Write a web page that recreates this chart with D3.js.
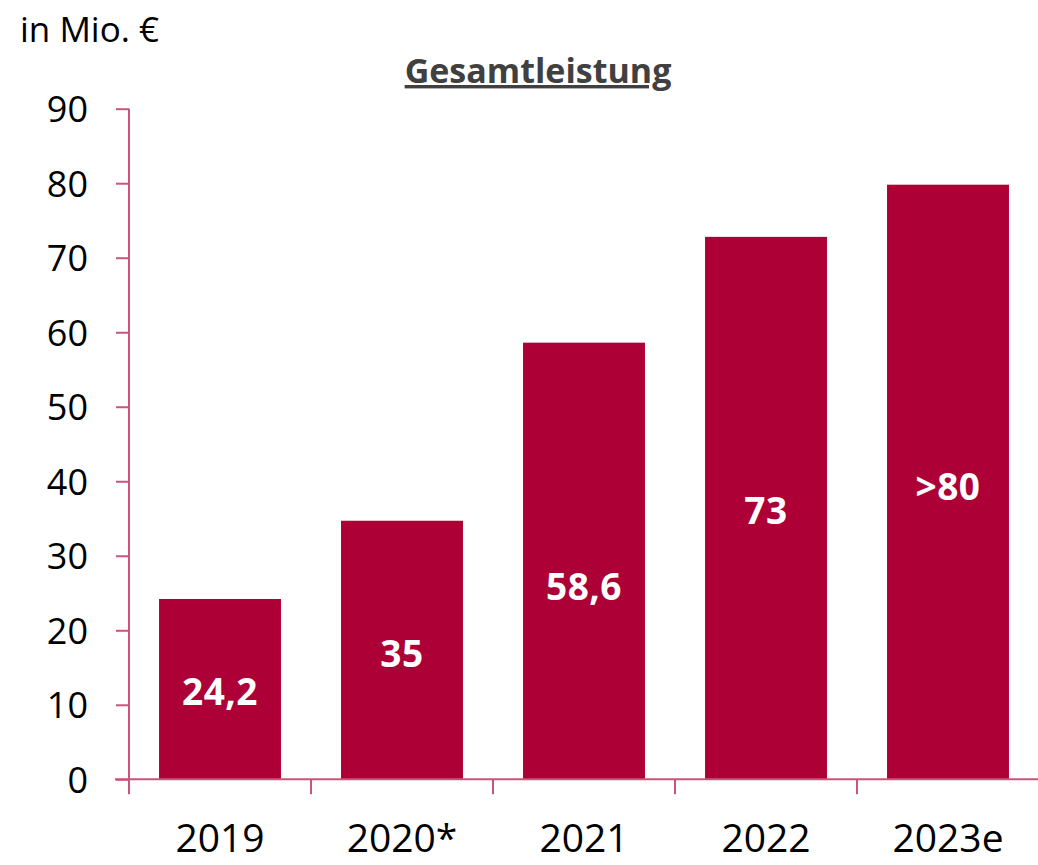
<!DOCTYPE html>
<html>
<head>
<meta charset="utf-8">
<script src="https://cdn.jsdelivr.net/npm/d3@7"></script>
<style>
  body { margin: 0; background: #fff; }
  text { font-family: "Open Sans", "Noto Sans", sans-serif; }
</style>
</head>
<body>
<div id="chart"></div>
<script>
// values
const years = ['2019', '2020*', '2021', '2022', '2023e'];
const values = [24.2, 34.7, 58.6, 72.8, 79.8];
const valueLabels = ['24,2', '35', '58,6', '73', '>80'];
const labelLevels = [11.7, 16.9, 25.8, 36.0, 39.3];
const yTicks = [0, 10, 20, 30, 40, 50, 60, 70, 80, 90];

let width = 1038;
let height = 865;
let barColor = '#ad0036';
let axisColor = '#c9557a';

let svg = d3.select('#chart')
    .append('svg')
    .attr('width', width)
    .attr('height', height);

let x = d3.scaleBand()
    .domain(years)
    .range([129, 1039])
    .paddingInner(0.33)
    .paddingOuter(0.165);

let y = d3.scaleLinear()
    .domain([0, 90])
    .range([779.3, 108.7]);

// bars
svg.append('g')
    .selectAll('rect')
    .data(values)
    .enter()
    .append('rect')
    .attr('x', function (d, i) { return x(years[i]); })
    .attr('y', function (d) { return y(d); })
    .attr('width', x.bandwidth())
    .attr('height', function (d) { return y(0) - y(d); })
    .attr('fill', barColor);

// value labels inside bars
svg.append('g')
    .selectAll('text')
    .data(valueLabels)
    .enter()
    .append('text')
    .attr('x', function (d, i) { return x(years[i]) + x.bandwidth() / 2; })
    .attr('y', function (d, i) { return y(labelLevels[i]); })
    .attr('dy', '0.36em')
    .attr('text-anchor', 'middle')
    .attr('fill', '#fff')
    .style('font-size', '37px')
    .style('font-weight', 'bold')
    .style('letter-spacing', '0.5px')
    .text(function (d) { return d; });

// y axis
let yAxis = svg.append('g')
    .attr('transform', 'translate(129,0)')
    .call(d3.axisLeft(y).tickValues(yTicks).tickSize(13).tickPadding(28));
yAxis.select('.domain').remove();
yAxis.append('line')
    .attr('y1', y(90)).attr('y2', 794)
    .attr('stroke', axisColor).attr('stroke-width', 2);
yAxis.selectAll('.tick line').attr('stroke', axisColor).attr('stroke-width', 2);
yAxis.selectAll('.tick text')
    .attr('fill', '#000')
    .style('font-size', '36px')
    .attr('dy', '0.36em');

// x axis
let xAxis = svg.append('g')
    .attr('transform', 'translate(0,' + y(0) + ')');
xAxis.append('line')
    .attr('x1', 115).attr('x2', width)
    .attr('stroke', axisColor).attr('stroke-width', 2);
let step = x.step();
xAxis.selectAll('.sep')
    .data(years)
    .enter()
    .append('line')
    .attr('class', 'sep')
    .attr('x1', function (d) { return x(d) - x.paddingInner() * step / 2; })
    .attr('x2', function (d) { return x(d) - x.paddingInner() * step / 2; })
    .attr('y1', 0).attr('y2', 15)
    .attr('stroke', axisColor).attr('stroke-width', 2);
xAxis.selectAll('.lbl')
    .data(years)
    .enter()
    .append('text')
    .attr('class', 'lbl')
    .attr('x', function (d) { return x(d) + x.bandwidth() / 2; })
    .attr('y', 73)
    .attr('text-anchor', 'middle')
    .attr('fill', '#000')
    .style('font-size', '39px')
    .text(function (d) { return d; });

// unit and title
svg.append('text')
    .attr('x', 20)
    .attr('y', 42)
    .attr('fill', '#000')
    .style('font-size', '35px')
    .text('in Mio. €');

svg.append('text')
    .attr('x', 538)
    .attr('y', 83)
    .attr('text-anchor', 'middle')
    .attr('fill', '#404040')
    .style('font-size', '34px')
    .style('font-weight', 'bold')
    .style('text-decoration', 'underline')
    .text('Gesamtleistung');
</script>
</body>
</html>
